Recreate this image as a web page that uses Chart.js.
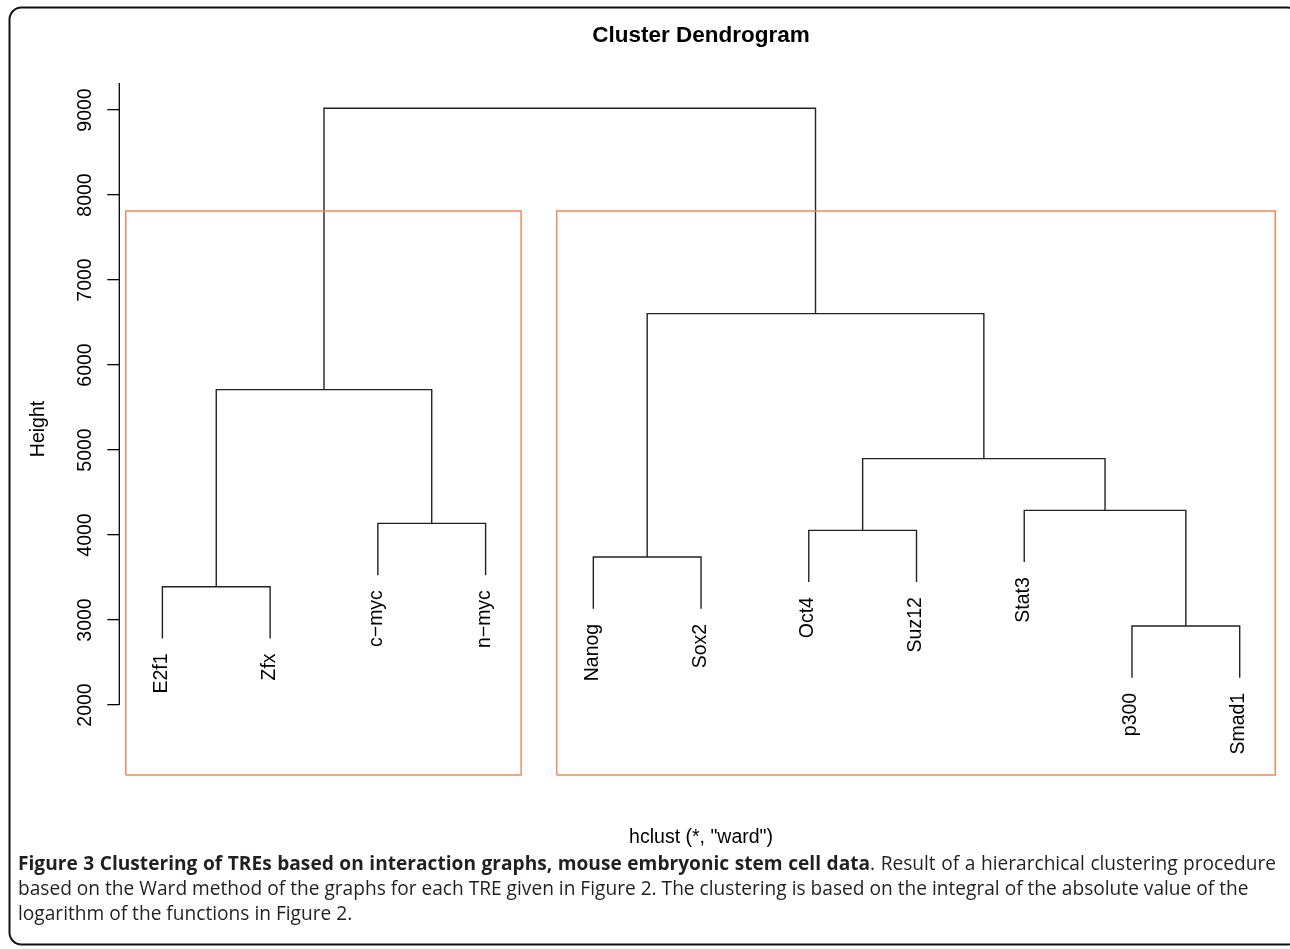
<!DOCTYPE html>
<html>
<head>
<meta charset="utf-8">
<title>Cluster Dendrogram</title>
<script src="https://cdn.jsdelivr.net/npm/chart.js@4.4.1/dist/chart.umd.min.js"></script>
<style>
  html, body { margin: 0; padding: 0; background: #fff; }
  canvas { display: block; }
</style>
</head>
<body>
<canvas id="chart" width="1290" height="949"></canvas>
<script>
// Leaves, left to right in dendrogram order
const leafLabels = ['E2f1', 'Zfx', 'c\u2212myc', 'n\u2212myc', 'Nanog', 'Sox2', 'Oct4', 'Suz12', 'Stat3', 'p300', 'Smad1'];
// Merge steps, hclust style: negative = leaf position, positive = earlier step number
const mergeLeft  = [-10, -1, -5, -7, -3, -9, 4, 2, 3, 8];
const mergeRight = [-11, -2, -6, -8, -4, 1, 6, 5, 7, 9];
const mergeHeights = [2929, 3392, 3741, 4055, 4137, 4290, 4898, 5710, 6604, 9020];
// Axis
const heightTicks = [2000, 3000, 4000, 5000, 6000, 7000, 8000, 9000];
const heightRange = [1176.5, 9317.6];
const leafRange = [0.6, 11.4];
// Two clusters boxed by rect.hclust
const clusterSizes = [4, 7];
const hangFraction = 0.1;

const captionBold = 'Figure 3 Clustering of TREs based on interaction graphs, mouse embryonic stem cell data';
const captionLines = [
  '. Result of a hierarchical clustering procedure',
  'based on the Ward method of the graphs for each TRE given in Figure 2. The clustering is based on the integral of the absolute value of the',
  'logarithm of the functions in Figure 2.'
];

// ---- dendrogram geometry in data units ----
const leafX = leafLabels.map((_, i) => i + 1);
const hang = hangFraction * (Math.max(...mergeHeights) - Math.min(...mergeHeights));
const nodeX = [];
const leafBottom = new Array(leafLabels.length);
const links = [];
mergeHeights.forEach((h, i) => {
  const ends = [mergeLeft[i], mergeRight[i]].map(c => {
    if (c < 0) {
      leafBottom[-c - 1] = h - hang;
      return { x: leafX[-c - 1], y: h - hang };
    }
    return { x: nodeX[c - 1], y: mergeHeights[c - 1] };
  });
  nodeX[i] = (ends[0].x + ends[1].x) / 2;
  links.push([ends[0], { x: ends[0].x, y: h }, { x: ends[1].x, y: h }, ends[1]]);
});

const sortedH = [...mergeHeights].sort((a, b) => b - a);
const k = clusterSizes.length;
const cutHeight = (sortedH[k - 2] + sortedH[k - 1]) / 2;
const boxes = [];
let start = 0;
clusterSizes.forEach(size => {
  const l = start + 0.66, r = start + size + 0.33, b = heightRange[0];
  boxes.push([{ x: l, y: b }, { x: l, y: cutHeight }, { x: r, y: cutHeight }, { x: r, y: b }, { x: l, y: b }]);
  start += size;
});

const AXIS_FONT = '"Liberation Sans", Arial, Helvetica, sans-serif';
const LINE_COLOR = '#222';
const BOX_COLOR = '#F3885B';

const datasets = [
  ...boxes.map(pts => ({
    data: pts, showLine: true, borderColor: BOX_COLOR, borderWidth: 1.5,
    pointRadius: 0, fill: false, tension: 0, clip: false
  })),
  ...links.map(pts => ({
    data: pts, showLine: true, borderColor: LINE_COLOR, borderWidth: 1.4,
    pointRadius: 0, fill: false, tension: 0, clip: false
  }))
];

// Labels, axis line, caption and frame
const annotations = {
  id: 'annotations',
  afterDraw(chart) {
    const { ctx } = chart;
    const xs = chart.scales.x, ys = chart.scales.y;
    ctx.save();

    // y axis line, from lowest tick up to the plot top
    ctx.strokeStyle = '#000';
    ctx.lineWidth = 1.3;
    ctx.beginPath();
    ctx.moveTo(ys.right, ys.getPixelForValue(heightTicks[0]));
    ctx.lineTo(ys.right, chart.chartArea.top);
    ctx.stroke();

    // y tick labels, parallel to the axis
    ctx.fillStyle = '#000';
    ctx.font = '19.5px ' + AXIS_FONT;
    ctx.textAlign = 'center';
    ctx.textBaseline = 'alphabetic';
    heightTicks.forEach(v => {
      ctx.save();
      ctx.translate(ys.right - 28.5, ys.getPixelForValue(v));
      ctx.rotate(-Math.PI / 2);
      ctx.fillText(String(v), 0, 0);
      ctx.restore();
    });

    // leaf labels hanging below each leaf
    ctx.textAlign = 'right';
    leafLabels.forEach((lab, i) => {
      ctx.save();
      ctx.translate(xs.getPixelForValue(leafX[i]) + 4.5, ys.getPixelForValue(leafBottom[i]) + 15);
      ctx.rotate(-Math.PI / 2);
      ctx.fillText(lab, 0, 0);
      ctx.restore();
    });

    // caption
    const capFamily = '"Open Sans", "Noto Sans", sans-serif';
    const left = 18, right = 1276;
    ctx.textAlign = 'left';
    ctx.fillStyle = '#231F20';
    ctx.font = '20px ' + capFamily;
    const w2 = ctx.measureText(captionLines[1]).width;
    const size = 20 * 1231 / w2;
    const regFont = size + 'px ' + capFamily;
    const boldFont = 'bold ' + size + 'px ' + capFamily;

    // first line justified between the margins
    const runs = [];
    captionBold.split(' ').forEach(w => runs.push({ t: w, f: boldFont }));
    const reg = captionLines[0].split(' ');
    runs[runs.length - 1].tail = { t: reg[0], f: regFont };
    reg.slice(1).forEach(w => runs.push({ t: w, f: regFont }));
    let natural = 0;
    runs.forEach(r => {
      ctx.font = r.f; r.w = ctx.measureText(r.t).width;
      if (r.tail) { ctx.font = r.tail.f; r.tw = ctx.measureText(r.tail.t).width; r.w += r.tw; }
      natural += r.w;
    });
    const gap = (right - left - natural) / (runs.length - 1);
    let x = left;
    const y1 = 870;
    runs.forEach(r => {
      ctx.font = r.f;
      ctx.fillText(r.t, x, y1);
      if (r.tail) {
        const bw = r.w - r.tw;
        ctx.font = r.tail.f;
        ctx.fillText(r.tail.t, x + bw, y1);
      }
      x += r.w + gap;
    });
    ctx.font = regFont;
    ctx.fillText(captionLines[1], left, y1 + 25);
    ctx.fillText(captionLines[2], left, y1 + 50);

    // rounded frame
    ctx.strokeStyle = '#111';
    ctx.lineWidth = 2;
    ctx.beginPath();
    ctx.roundRect(9.5, 7.5, 1290, 937, 12);
    ctx.stroke();
    ctx.restore();
  }
};

new Chart(document.getElementById('chart'), {
  type: 'scatter',
  data: { datasets },
  plugins: [annotations],
  options: {
    responsive: false,
    animation: false,
    devicePixelRatio: 1,
    layout: { padding: { left: 0, top: 0, right: 7.2, bottom: 99.6 } },
    plugins: {
      legend: { display: false },
      tooltip: { enabled: false },
      title: {
        display: true,
        fullSize: false,
        text: 'Cluster Dendrogram',
        color: '#000',
        font: { family: AXIS_FONT, size: 22.5, weight: 'bold', lineHeight: 1.2 },
        padding: { top: 22.5, bottom: 33.5 }
      }
    },
    scales: {
      x: {
        type: 'linear',
        min: leafRange[0],
        max: leafRange[1],
        grid: { display: false, drawTicks: false },
        border: { display: false },
        ticks: { display: false },
        title: {
          display: true,
          text: 'hclust (*, "ward")',
          color: '#000',
          font: { family: AXIS_FONT, size: 19.5, lineHeight: 1.2 },
          padding: { top: 51, bottom: 0 }
        }
      },
      y: {
        type: 'linear',
        min: heightRange[0],
        max: heightRange[1],
        afterBuildTicks: s => { s.ticks = heightTicks.map(v => ({ value: v })); },
        afterFit: s => { s.width = 119.3; },
        grid: { display: true, drawOnChartArea: false, drawTicks: true, tickLength: 12, color: '#000', lineWidth: 1.3 },
        border: { display: false },
        ticks: { display: false },
        title: {
          display: true,
          text: 'Height',
          color: '#000',
          font: { family: AXIS_FONT, size: 19.5, lineHeight: 1.2 },
          padding: { top: 27, bottom: 0 }
        }
      }
    }
  }
});
</script>
</body>
</html>
